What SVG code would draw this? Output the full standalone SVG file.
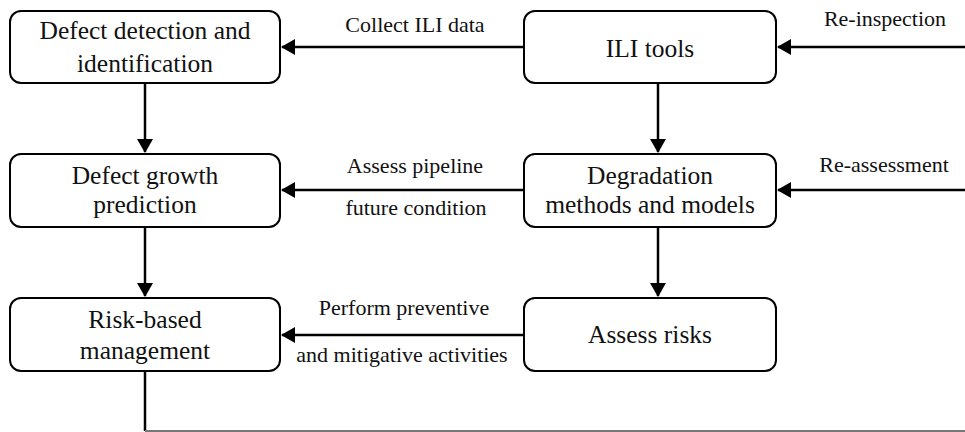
<svg xmlns="http://www.w3.org/2000/svg" width="965" height="432" viewBox="0 0 965 432">
<style>
.box{fill:#fff;stroke:#000;stroke-width:2}
.t{font-family:'Liberation Serif','DejaVu Serif',serif;font-size:25.5px;fill:#111;text-anchor:middle}
.l{font-family:'Liberation Serif','DejaVu Serif',serif;font-size:22px;fill:#111;text-anchor:middle}
.c{stroke:#000;stroke-width:2.5;fill:none}
</style>
<defs>
<marker id="ah" markerWidth="14" markerHeight="16" refX="13" refY="8" orient="auto" markerUnits="userSpaceOnUse">
<path d="M0,0 L14,8 L0,16 Z" fill="#000"/>
</marker>
</defs>
<rect width="965" height="432" fill="#fff"/>
<g id="connectors">
<line class="c" x1="524" y1="47" x2="282" y2="47" marker-end="url(#ah)"/>
<line class="c" x1="965" y1="47" x2="778" y2="47" marker-end="url(#ah)"/>
<line class="c" x1="145" y1="83" x2="145" y2="152" marker-end="url(#ah)"/>
<line class="c" x1="658" y1="83" x2="658" y2="152" marker-end="url(#ah)"/>
<line class="c" x1="524" y1="190" x2="282" y2="190" marker-end="url(#ah)"/>
<line class="c" x1="965" y1="190" x2="778" y2="190" marker-end="url(#ah)"/>
<line class="c" x1="145" y1="227" x2="145" y2="296" marker-end="url(#ah)"/>
<line class="c" x1="658" y1="227" x2="658" y2="296" marker-end="url(#ah)"/>
<line class="c" x1="524" y1="335" x2="282" y2="335" marker-end="url(#ah)"/>
<line class="c" x1="145" y1="371" x2="145" y2="431"/>
<line x1="145" y1="431" x2="965" y2="431" stroke="#777" stroke-width="2"/>
<text class="l" x="415" y="32">Collect ILI data</text>
<text class="l" x="885" y="26">Re-inspection</text>
<text class="l" x="415" y="173">Assess pipeline</text>
<text class="l" x="416" y="215">future condition</text>
<text class="l" x="884" y="172">Re-assessment</text>
<text class="l" x="404" y="315">Perform preventive</text>
<text class="l" x="402" y="362">and mitigative activities</text>
</g>
<g id="n1">
<rect class="box" x="10" y="11" width="270" height="72" rx="11"/>
<text class="t" x="145" y="39">Defect detection and</text>
<text class="t" x="145" y="72">identification</text>
</g>
<g id="n2">
<rect class="box" x="524" y="11" width="252" height="72" rx="11"/>
<text class="t" x="650" y="57">ILI tools</text>
</g>
<g id="n3">
<rect class="box" x="10" y="154" width="270" height="73" rx="11"/>
<text class="t" x="145" y="184">Defect growth</text>
<text class="t" x="145" y="213">prediction</text>
</g>
<g id="n4">
<rect class="box" x="524" y="154" width="252" height="73" rx="11"/>
<text class="t" x="650" y="184">Degradation</text>
<text class="t" x="650" y="213">methods and models</text>
</g>
<g id="n5">
<rect class="box" x="10" y="298" width="270" height="73" rx="11"/>
<text class="t" x="145" y="328">Risk-based</text>
<text class="t" x="145" y="359">management</text>
</g>
<g id="n6">
<rect class="box" x="524" y="298" width="252" height="73" rx="11"/>
<text class="t" x="650" y="343">Assess risks</text>
</g>
</svg>
